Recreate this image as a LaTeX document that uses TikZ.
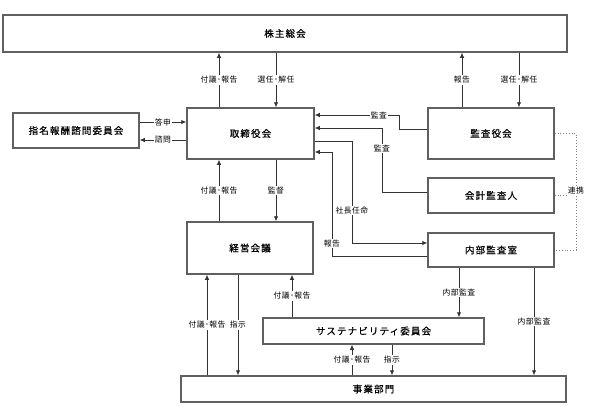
\documentclass[tikz,border=0pt]{standalone}
\usepackage{fontspec}
\setmainfont{Noto Sans CJK JP}
\newfontfamily\boxfont[LetterSpace=12,FakeBold=0.6]{Noto Sans CJK JP}
\newfontfamily\lblfont[LetterSpace=6]{Noto Sans CJK JP}
\usepackage{tikz}
\usetikzlibrary{arrows.meta}
\tikzset{>={Latex[length=5pt,width=4.5pt]}}

\begin{document}
\begin{tikzpicture}[x=1pt,y=-1pt,
        box/.style={draw=gray!75!black,line width=1.5pt,fill=white,inner sep=0pt,font=\boxfont\fontsize{9.5}{11}\selectfont},
        lbl/.style={fill=white,inner sep=1pt,font=\lblfont\fontsize{7.8}{9}\selectfont},
        con/.style={draw=black!80,line width=0.8pt}]
        \useasboundingbox (0,0) rectangle (600,405);
        %%%
        \node[box,minimum width=564,minimum height=37] (kabu) at (285,33.5) {株主総会};
        \node[box,minimum width=127,minimum height=51] (tori) at (250.5,133.5) {取締役会};
        \node[box,minimum width=126,minimum height=35] (shimei) at (76,130.5) {指名報酬諮問委員会};
        \node[box,minimum width=126,minimum height=51] (kansayaku) at (491,133.5) {監査役会};
        \node[box,minimum width=126,minimum height=35] (kaikei) at (491,195.5) {会計監査人};
        \node[box,minimum width=126,minimum height=34] (naibu) at (491,250) {内部監査室};
        \node[box,minimum width=126,minimum height=52] (keiei) at (250,248) {経営会議};
        \node[box,minimum width=221,minimum height=26] (sus) at (373.5,331) {サステナビリティ委員会};
        \node[box,minimum width=385,minimum height=26] (jigyo) at (373.5,389) {事業部門};
        %%%
        \draw[con,->] (219,0 |- tori.north) -- node[lbl]{付議･報告} (219,0 |- kabu.south);
        \draw[con,->] (276,0 |- kabu.south) -- node[lbl]{選任･解任} (276,0 |- tori.north);
        \draw[con,->] (462,0 |- kansayaku.north) -- node[lbl]{報告} (462,0 |- kabu.south);
        \draw[con,->] (519,0 |- kabu.south) -- node[lbl]{選任･解任} (519,0 |- kansayaku.north);
        %%%
        \draw[con,->] (shimei.east |- 0,122) -- node[lbl]{答申} (tori.west |- 0,122);
        \draw[con,->] (tori.west |- 0,140) -- node[lbl]{諮問} (shimei.east |- 0,140);
        %%%
        \draw[con,->] (kansayaku.west |- 0,129) -- (399,129) |- node[lbl,pos=0.62]{監査} (tori.east |- 0,115);
        \draw[con,->] (kaikei.west |- 0,192) -- (382,192) |- node[lbl,pos=0.34]{監査} (tori.east |- 0,128);
        \draw[con,->] (tori.east |- 0,141) -- (352,141) |- node[lbl,pos=0.34]{社長任命} (naibu.west |- 0,243);
        \draw[con,->] (naibu.west |- 0,256) -- (332,256) |- node[lbl,pos=0.06]{報告} (tori.east |- 0,152);
        %%%
        \draw[con,->] (219,0 |- keiei.north) -- node[lbl]{付議･報告} (219,0 |- tori.south);
        \draw[con,->] (276,0 |- tori.south) -- node[lbl]{監督} (276,0 |- keiei.north);
        \draw[con,->] (207,0 |- jigyo.north) -- node[lbl]{付議･報告} (207,0 |- keiei.south);
        \draw[con,->] (238,0 |- keiei.south) -- node[lbl]{指示} (238,0 |- jigyo.north);
        \draw[con,->] (292,0 |- sus.north) -- node[lbl]{付議･報告} (292,0 |- keiei.south);
        %%%
        \draw[con,->] (459,0 |- naibu.south) -- node[lbl]{内部監査} (459,0 |- sus.north);
        \draw[con,->] (534,0 |- naibu.south) -- node[lbl]{内部監査} (534,0 |- jigyo.north);
        \draw[con,->] (352,0 |- jigyo.north) -- node[lbl]{付議･報告} (352,0 |- sus.south);
        \draw[con,->] (392,0 |- sus.south) -- node[lbl]{指示} (392,0 |- jigyo.north);
        %%%
        \draw[dotted,gray,line width=0.8pt] (kansayaku.east) -- (576,0 |- kansayaku.east) |- (naibu.east);
        \draw[dotted,gray,line width=0.8pt] (kaikei.east) -- (576,0 |- kaikei.east);
        \node[lbl] (renkei) at (576,191) {連携};
        %%%
\end{tikzpicture}
\end{document}
